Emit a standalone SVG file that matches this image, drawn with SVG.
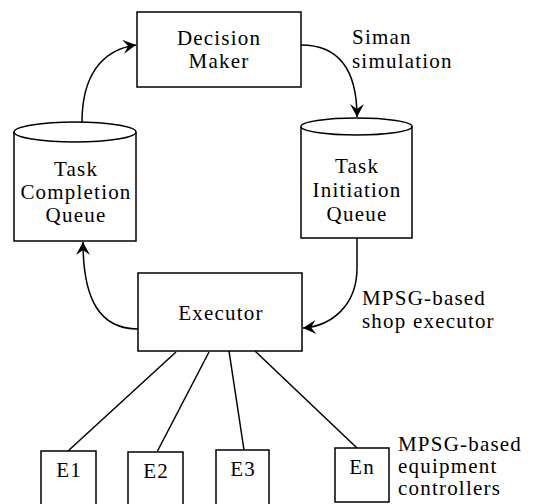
<svg xmlns="http://www.w3.org/2000/svg" width="537" height="504" viewBox="0 0 537 504">
<defs>
<marker id="arr" viewBox="-14 -8 16 16" markerWidth="16" markerHeight="16" refX="0" refY="0" orient="auto" markerUnits="userSpaceOnUse">
<path d="M0,0 L-13,-7 L-8,0 L-13,7 Z" fill="#000"/>
</marker>
</defs>
<style>
.box{fill:#fff;stroke:#000;stroke-width:1.5}
.ln{fill:none;stroke:#000;stroke-width:1.5}
.t{font-family:'Liberation Serif','DejaVu Serif','Times New Roman',serif;font-size:21px;letter-spacing:1.2px;fill:#000}
.c{text-anchor:middle}
</style>
<rect width="537" height="504" fill="#fff"/>
<g id="connectors">
<path class="ln" d="M82,122 C82,78 100,50 136,45" marker-end="url(#arr)"/>
<path class="ln" d="M301,45 C340,45 357,72 357,117" marker-end="url(#arr)"/>
<path class="ln" d="M357,238 L357,268 C357,305 332,326 303,328" marker-end="url(#arr)"/>
<path class="ln" d="M138,329 C100,329 83,300 83,242" marker-end="url(#arr)"/>
<line class="ln" x1="176" y1="352" x2="68" y2="451"/>
<line class="ln" x1="209" y1="352" x2="157" y2="452"/>
<line class="ln" x1="229" y1="351" x2="244" y2="450"/>
<line class="ln" x1="255" y1="351" x2="357" y2="448"/>
</g>
<g id="decision-maker">
<rect class="box" x="137" y="12" width="164" height="75"/>
<text class="t c" x="219" y="45">Decision</text>
<text class="t c" x="219" y="68">Maker</text>
</g>
<g id="siman-label">
<text class="t" x="352" y="44">Siman</text>
<text class="t" x="352" y="68">simulation</text>
</g>
<g id="task-completion-queue">
<path class="box" d="M14,132 A61,10 0 0 1 136,132 L136,241 L14,241 Z"/>
<path class="ln" d="M14,132 A61,10 0 0 0 136,132"/>
<text class="t c" x="76" y="176">Task</text>
<text class="t c" x="76" y="199">Completion</text>
<text class="t c" x="76" y="222">Queue</text>
</g>
<g id="task-initiation-queue">
<path class="box" d="M301,126.5 A55.5,8.5 0 0 1 412,126.5 L412,238 L301,238 Z"/>
<path class="ln" d="M301,126.5 A55.5,8.5 0 0 0 412,126.5"/>
<text class="t c" x="357" y="173">Task</text>
<text class="t c" x="357" y="197">Initiation</text>
<text class="t c" x="357" y="221">Queue</text>
</g>
<g id="executor">
<rect class="box" x="138" y="273" width="164" height="78"/>
<text class="t c" x="221" y="320">Executor</text>
</g>
<g id="shop-label">
<text class="t" x="362" y="305">MPSG-based</text>
<text class="t" x="362" y="328">shop executor</text>
</g>
<g id="e1">
<rect class="box" x="41" y="451" width="55" height="60"/>
<text class="t c" x="69" y="477">E1</text>
</g>
<g id="e2">
<rect class="box" x="128" y="452" width="55" height="60"/>
<text class="t c" x="156" y="478">E2</text>
</g>
<g id="e3">
<rect class="box" x="216" y="450" width="53" height="60"/>
<text class="t c" x="243" y="476">E3</text>
</g>
<g id="en">
<rect class="box" x="335" y="448" width="54" height="54"/>
<text class="t c" x="362" y="474">En</text>
</g>
<g id="equipment-label">
<text class="t" x="398" y="451">MPSG-based</text>
<text class="t" x="398" y="473">equipment</text>
<text class="t" x="398" y="495">controllers</text>
</g>
</svg>
